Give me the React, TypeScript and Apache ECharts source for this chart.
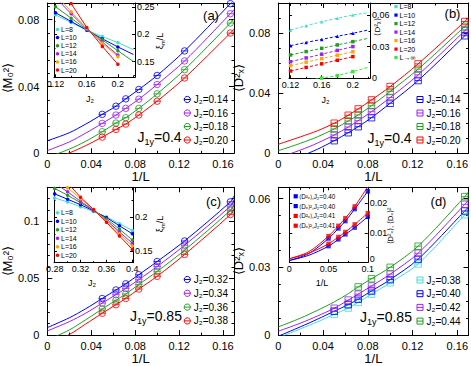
import React, { useEffect, useRef } from 'react';
import * as echarts from 'echarts';

const FONT = '"Liberation Sans", Arial, sans-serif';
const BLUE = '#0000ff', PURPLE = '#a020f0', GREEN = '#1f9f1f', RED = '#ff0000', CYAN = '#40e0d0', ORANGE = '#ffa500', LIME = '#3ee23e';

// ---- main panels: x = 1/L ----
const sizesL = [20, 16, 14, 12, 10, 8, 6];
const invL = sizesL.map((L) => 1 / L);
const fitX = [0, 0.02, 0.035, 0.05, 0.0625, 0.0714, 0.0833, 0.1, 0.125, 0.1667, 0.17];

// (a) <M0^2>, J1y = 0.4
const aLabels = ['J₂=0.14', 'J₂=0.16', 'J₂=0.18', 'J₂=0.20'];
const aM014 = [0.0233, 0.0282, 0.0326, 0.0382, 0.0466, 0.0613, 0.0896];
const aM016 = [0.0179, 0.0229, 0.0269, 0.0324, 0.0412, 0.0553, 0.0836];
const aM018 = [0.0129, 0.0181, 0.0213, 0.0269, 0.0356, 0.0501, 0.078];
const aM020 = [0.0097, 0.0143, 0.0175, 0.0229, 0.0312, 0.0451, 0.072];
const aFit014 = [0.0075, 0.0123, 0.0175, 0.0233, 0.0282, 0.0326, 0.0382, 0.0466, 0.0613, 0.0896, 0.0922];
const aFit016 = [0.0016, 0.0068, 0.0121, 0.0179, 0.0229, 0.0269, 0.0324, 0.0412, 0.0553, 0.0836, 0.0862];
const aFit018 = [-0.0025, 0.0025, 0.0072, 0.0129, 0.0181, 0.0213, 0.0269, 0.0356, 0.0501, 0.078, 0.0806];
const aFit020 = [-0.0045, 0.0002, 0.0046, 0.0097, 0.0143, 0.0175, 0.0229, 0.0312, 0.0451, 0.072, 0.0746];

// (b) <Dx^2>, J1y = 0.4
const bLabels = ['J₂=0.14', 'J₂=0.16', 'J₂=0.18', 'J₂=0.20'];
const bD014 = [0.0084, 0.0137, 0.0177, 0.0237, 0.0333, 0.0484, 0.0782];
const bD016 = [0.0122, 0.0175, 0.0217, 0.0277, 0.0371, 0.0522, 0.0815];
const bD018 = [0.0162, 0.0215, 0.0255, 0.0317, 0.0411, 0.056, 0.0844];
const bD020 = [0.02, 0.0253, 0.0295, 0.0355, 0.0444, 0.0595, 0.0877];
const bFit014 = [-0.008, -0.002, 0.0027, 0.0084, 0.0137, 0.0177, 0.0237, 0.0333, 0.0484, 0.0782, 0.0808];
const bFit016 = [-0.003, 0.0022, 0.0068, 0.0122, 0.0175, 0.0217, 0.0277, 0.0371, 0.0522, 0.0815, 0.0841];
const bFit018 = [0.0017, 0.0067, 0.011, 0.0162, 0.0215, 0.0255, 0.0317, 0.0411, 0.056, 0.0844, 0.087];
const bFit020 = [0.006, 0.011, 0.015, 0.02, 0.0253, 0.0295, 0.0355, 0.0444, 0.0595, 0.0877, 0.0903];

// (c) <M0^2>, J1y = 0.85
const cLabels = ['J₂=0.32', 'J₂=0.34', 'J₂=0.36', 'J₂=0.38'];
const cM032 = [0.0322, 0.0397, 0.0451, 0.0531, 0.0647, 0.0828, 0.1172];
const cM034 = [0.0281, 0.0356, 0.041, 0.0488, 0.0603, 0.079, 0.1134];
const cM036 = [0.023, 0.0307, 0.0362, 0.0445, 0.056, 0.0747, 0.1097];
const cM038 = [0.0192, 0.0267, 0.0322, 0.0405, 0.0517, 0.0709, 0.106];
const cFit032 = [0.0066, 0.0152, 0.0232, 0.0322, 0.0397, 0.0451, 0.0531, 0.0647, 0.0828, 0.1172, 0.1225];
const cFit034 = [0.0037, 0.0118, 0.0193, 0.0281, 0.0356, 0.041, 0.0488, 0.0603, 0.079, 0.1134, 0.1187];
const cFit036 = [-0.0045, 0.0045, 0.0135, 0.023, 0.0307, 0.0362, 0.0445, 0.056, 0.0747, 0.1097, 0.115];
const cFit038 = [-0.0085, 0.0005, 0.0098, 0.0192, 0.0267, 0.0322, 0.0405, 0.0517, 0.0709, 0.106, 0.1112];

// (d) <Dx^2>, J1y = 0.85
const dLabels = ['J₂=0.38', 'J₂=0.40', 'J₂=0.42', 'J₂=0.44'];
const dD038 = [0.0091, 0.0119, 0.0144, 0.018, 0.023, 0.0313, 0.0529];
const dD040 = [0.0105, 0.0134, 0.0158, 0.0194, 0.0244, 0.0334, 0.0546];
const dD042 = [0.0118, 0.0154, 0.018, 0.0216, 0.0268, 0.036, 0.0575];
const dD044 = [null, null, 0.0212, 0.0248, 0.0298, 0.0391, 0.0609];
const dFit038 = [-0.0012, 0.0028, 0.0058, 0.0091, 0.0119, 0.0144, 0.018, 0.023, 0.0313, 0.0529, 0.0546];
const dFit040 = [-0.0005, 0.0037, 0.007, 0.0105, 0.0134, 0.0158, 0.0194, 0.0244, 0.0334, 0.0546, 0.0564];
const dFit042 = [0.0017, 0.0053, 0.0084, 0.0118, 0.0154, 0.018, 0.0216, 0.0268, 0.036, 0.0575, 0.0594];
const dFit044 = [0.0036, 0.0075, 0.0109, 0.0146, 0.0182, 0.0212, 0.0248, 0.0298, 0.0391, 0.0609, 0.063];

// ---- insets ----
const sizeLabels = ['L=8', 'L=10', 'L=12', 'L=14', 'L=16', 'L=20'];
// inset (a): xi_m/L vs J2 (last column = line end only)
const iaJ2 = [0.12, 0.14, 0.16, 0.18, 0.2, 0.22];
const iaL8 = [0.236, 0.222, 0.208, 0.196, 0.185, 0.172];
const iaL10 = [0.24, 0.224, 0.208, 0.192, 0.177, 0.163];
const iaL12 = [0.251, 0.23, 0.209, 0.19, 0.17, 0.15];
const iaL14 = [0.268, 0.238, 0.21, 0.186, 0.162, null];
const iaL16 = [0.274, 0.242, 0.211, 0.184, 0.159, null];
const iaL20 = [0.3, 0.257, 0.213, 0.178, 0.145, null];

// inset (b): <Dx^2> vs J2
const ibLabels = ['L=8', 'L=10', 'L=12', 'L=14', 'L=16', 'L=20', 'L→∞'];
const ibJ2 = [0.12, 0.14, 0.16, 0.18, 0.2, 0.22];
const ibL8 = [0.0457, 0.0498, 0.0536, 0.0568, 0.06, 0.0622];
const ibL10 = [0.0309, 0.034, 0.0368, 0.0398, 0.0426, 0.0458];
const ibL12 = [0.0221, 0.0253, 0.0284, 0.0316, 0.0347, 0.0379];
const ibL14 = [0.0157, 0.0193, 0.0228, 0.0264, 0.03, null];
const ibL16 = [0.012, 0.0153, 0.0186, 0.0219, 0.0252, null];
const ibL20 = [0.0069, 0.0103, 0.0137, 0.0171, 0.0205, null];
const ibLinf = [-0.003, -0.0016, 0.0002, 0.0025, 0.0063, 0.0105];

// inset (c): xi_m/L vs J2
const icJ2 = [0.28, 0.3, 0.32, 0.34, 0.36, 0.38, 0.4];
const icL8 = [0.228, 0.222, 0.215, 0.208, 0.2, 0.19, 0.18];
const icL10 = [0.234, 0.226, 0.218, 0.209, 0.199, 0.187, 0.175];
const icL12 = [0.242, 0.232, 0.221, 0.21, 0.197, 0.182, 0.166];
const icL14 = [0.25, 0.237, 0.223, 0.21, 0.195, 0.178, 0.161];
const icL16 = [0.258, 0.243, 0.227, 0.211, 0.194, 0.175, 0.157];
const icL20 = [0.272, 0.25, 0.229, 0.211, 0.192, 0.172, 0.152];

// inset (d): <Dx^2> and <Dx>^2 vs 1/L
const idLabels = ['⟨D²ₓ⟩,J₂=0.40', '⟨Dₓ⟩²,J₂=0.40', '⟨D²ₓ⟩,J₂=0.41', '⟨Dₓ⟩²,J₂=0.41'];
const idInvL = [1 / 20, 1 / 16, 1 / 14, 1 / 12, 1 / 10];
const idD2_040 = [0.0081, 0.0115, 0.014, 0.0181, 0.0241];
const idDsq_040 = [0.0055, 0.0078, 0.0095, 0.0118, 0.0155];
const idD2_041 = [0.0089, 0.0124, 0.015, 0.019, 0.0257];
const idDsq_041 = [0.0063, 0.0086, 0.0103, 0.0129, 0.0167];
const idFitX = [0, 0.025, 0.05, 0.0625, 0.0714, 0.0833, 0.1];
const idFitD2_040 = [0.0006, 0.003, 0.0081, 0.0115, 0.014, 0.0181, 0.0241];
const idFitDsq_040 = [0.0006, 0.0024, 0.0055, 0.0078, 0.0095, 0.0118, 0.0155];
const idFitD2_041 = [0.0012, 0.0036, 0.0089, 0.0124, 0.015, 0.019, 0.0257];
const idFitDsq_041 = [0.0012, 0.0031, 0.0063, 0.0086, 0.0103, 0.0129, 0.0167];

const CIRC_BAR = 'path://M1,5A4,4 0 1,1 9,5A4,4 0 1,1 1,5ZM1,5L9,5';
const SQ_BAR = 'path://M1,1L9,1L9,9L1,9ZM1,5L9,5';

type Side = 'left' | 'right' | 'top' | 'bottom';
interface AxisDef { min: number; max: number; majors: number[]; minors: number[] }

const fmt = (v: number) => { const r = +(+v).toFixed(4); return r === 0 ? '0' : String(r); };
function steps(start: number, end: number, step: number): number[] {
  const out: number[] = [];
  const n = Math.round((end - start) / step);
  for (let i = 0; i <= n; i++) out.push(+(start + i * step).toFixed(6));
  return out;
}
const without = (a: number[], b: number[]) => a.filter((v) => !b.some((w) => Math.abs(w - v) < 1e-9));

function addAxes(list: any[], grid: number, d: AxisDef, labelSide: Side, oppSide: Side, majLen: number, minLen: number, label: any, name?: any): number {
  const mk = (pos: Side, ticks: number[], len: number, showLine: boolean, showLabel: boolean) => ({
    type: 'value', gridIndex: grid, position: pos, min: d.min, max: d.max,
    axisLine: { show: showLine, onZero: false, lineStyle: { color: '#000', width: 1 } },
    axisTick: { show: true, inside: true, length: len, customValues: ticks, lineStyle: { color: '#000', width: 1 } },
    axisLabel: showLabel
      ? { show: true, customValues: d.majors, formatter: fmt, color: '#000', fontFamily: FONT, ...label }
      : { show: false },
    splitLine: { show: false }, minorTick: { show: false }, minorSplitLine: { show: false },
  });
  const idx = list.length;
  const primary: any = mk(labelSide, d.majors, majLen, true, true);
  if (name) Object.assign(primary, name);
  list.push(primary, mk(labelSide, d.minors, minLen, false, false), mk(oppSide, d.majors, majLen, true, false), mk(oppSide, d.minors, minLen, false, false));
  return idx;
}

function buildOption() {
  const xAxes: any[] = [], yAxes: any[] = [], series: any[] = [], g: any[] = [];
  const grids = [
    { left: 43, top: 3, width: 191, height: 150.3 },
    { left: 278.3, top: 3, width: 191, height: 150.3 },
    { left: 43, top: 187.3, width: 191, height: 151 },
    { left: 278.3, top: 187.3, width: 191, height: 151 },
    { left: 54, top: 3, width: 81, height: 74.3, show: true, backgroundColor: '#fff', borderWidth: 0 },
    { left: 289, top: 3, width: 81, height: 75.3, show: true, backgroundColor: '#fff', borderWidth: 0 },
    { left: 54, top: 187.3, width: 79, height: 75.4, show: true, backgroundColor: '#fff', borderWidth: 0 },
    { left: 289.3, top: 187.3, width: 78.5, height: 75, show: true, backgroundColor: '#fff', borderWidth: 0 },
  ];
  const nameStyle = { fontSize: 13, fontFamily: FONT, color: '#000' };
  const xName = { name: '1/L', nameLocation: 'middle', nameGap: 15, nameTextStyle: nameStyle };
  const yName = (n: string) => ({ name: n, nameLocation: 'middle', nameGap: 28, nameRotate: 90, nameTextStyle: nameStyle });
  const xMain: AxisDef = { min: 0, max: 0.17, majors: steps(0, 0.16, 0.04), minors: steps(0.02, 0.14, 0.04) };
  const yDefs: AxisDef[] = [
    { min: 0, max: 0.09, majors: [0, 0.04, 0.08], minors: without(steps(0.008, 0.088, 0.008), [0, 0.04, 0.08]) },
    { min: 0, max: 0.1, majors: [0, 0.04, 0.08], minors: without(steps(0.01, 0.09, 0.01), [0, 0.04, 0.08]) },
    { min: 0, max: 0.13, majors: [0, 0.05, 0.1], minors: without(steps(0.01, 0.12, 0.01), [0, 0.05, 0.1]) },
    { min: 0, max: 0.065, majors: [0, 0.03, 0.06], minors: without(steps(0.0075, 0.06, 0.0075), [0, 0.03, 0.06]) },
  ];
  const yNames = ['⟨M₀²⟩', '⟨D²ₓ⟩', '⟨M₀²⟩', '⟨D²ₓ⟩'];
  const mainVals = [[aM014, aM016, aM018, aM020], [bD014, bD016, bD018, bD020], [cM032, cM034, cM036, cM038], [dD038, dD040, dD042, dD044]];
  const mainFits = [[aFit014, aFit016, aFit018, aFit020], [bFit014, bFit016, bFit018, bFit020], [cFit032, cFit034, cFit036, cFit038], [dFit038, dFit040, dFit042, dFit044]];
  const mainColors = [[BLUE, PURPLE, GREEN, RED], [BLUE, PURPLE, GREEN, RED], [BLUE, PURPLE, GREEN, RED], [CYAN, BLUE, PURPLE, GREEN]];
  const mainSymbols = [CIRC_BAR, SQ_BAR, CIRC_BAR, SQ_BAR];

  for (let p = 0; p < 4; p++) {
    const xi = addAxes(xAxes, p, xMain, 'bottom', 'top', 5, 2.5, { fontSize: 11, margin: 5 }, xName);
    const yi = addAxes(yAxes, p, yDefs[p], 'left', 'right', 5, 2.5, { fontSize: 11, margin: 8 }, yName(yNames[p]));
    mainVals[p].forEach((vals, k) => {
      const c = mainColors[p][k];
      series.push({
        type: 'line', xAxisIndex: xi, yAxisIndex: yi, clip: true, silent: true, z: 2,
        data: fitX.map((x, j) => [x, mainFits[p][k][j]]), symbol: 'none', showSymbol: false, smooth: 0.3,
        lineStyle: { color: c, width: 1 }, itemStyle: { color: c },
      });
      series.push({
        type: 'scatter', xAxisIndex: xi, yAxisIndex: yi, silent: true, z: 3,
        data: invL.map((x, j) => (vals[j] == null ? null : [x, vals[j]])).filter((d) => d !== null),
        symbol: mainSymbols[p], symbolSize: 6.5,
        itemStyle: { color: 'rgba(255,255,255,0)', borderColor: c, borderWidth: 1 },
      });
    });
  }

  // insets
  const ixDefs: AxisDef[] = [
    { min: 0.118, max: 0.222, majors: [0.12, 0.16, 0.2], minors: [0.14, 0.18, 0.22] },
    { min: 0.118, max: 0.222, majors: [0.12, 0.16, 0.2], minors: [0.14, 0.18, 0.22] },
    { min: 0.279, max: 0.401, majors: [0.28, 0.32, 0.36, 0.4], minors: [0.3, 0.34, 0.38] },
    { min: 0, max: 0.1, majors: [0, 0.05, 0.1], minors: [0.025, 0.075] },
  ];
  const iyDefs: AxisDef[] = [
    { min: 0.121, max: 0.258, majors: [0.15, 0.2, 0.25], minors: [0.125, 0.175, 0.225] },
    { min: 0, max: 0.0713, majors: [0, 0.03, 0.06], minors: [0.015, 0.045] },
    { min: 0.1324, max: 0.2437, majors: [0.15, 0.2], minors: [0.175, 0.225] },
    { min: 0, max: 0.0255, majors: [0, 0.01, 0.02], minors: [0.005, 0.015, 0.025] },
  ];
  const ix: number[] = [], iy: number[] = [];
  for (let p = 0; p < 4; p++) {
    ix.push(addAxes(xAxes, 4 + p, ixDefs[p], 'bottom', 'top', 3, 1.5, { fontSize: 9, margin: 2 }));
    const yl: any = { fontSize: 9, margin: 2 };
    if (p === 3) {
      // lift the "0" label slightly so it does not touch the x label "0.1"
      yl.formatter = (v: number) => (Math.abs(v) < 1e-9 ? '{z|0}' : fmt(v));
      yl.rich = { z: { fontSize: 9, fontFamily: FONT, padding: [0, 0, 7, 0] } };
    }
    iy.push(addAxes(yAxes, 4 + p, iyDefs[p], 'right', 'left', 3, 1.5, yl));
  }
  const sizeColors = [CYAN, BLUE, GREEN, PURPLE, ORANGE, RED];
  const lineInset = (p: number, xs: number[], vals: (number | null)[], c: string, opts: any, lastIsEnd: boolean) => {
    const data: any[] = [];
    xs.forEach((x, j) => {
      if (vals[j] == null) return;
      const end = lastIsEnd && j === xs.length - 1;
      data.push(end ? { value: [x, vals[j]], symbol: 'none' } : { value: [x, vals[j]] });
    });
    series.push({
      type: 'line', xAxisIndex: ix[p], yAxisIndex: iy[p], clip: true, silent: true, z: 4, data,
      symbol: opts.symbol, symbolSize: opts.size, showSymbol: true,
      lineStyle: { color: c, width: 1, type: opts.dash || 'solid' }, itemStyle: { color: c },
    });
  };
  [iaL8, iaL10, iaL12, iaL14, iaL16, iaL20].forEach((v, k) => lineInset(0, iaJ2, v, sizeColors[k], { symbol: 'circle', size: 3.5 }, true));
  const ibSyms = ['triangle', 'triangle', 'rect', 'rect', 'rect', 'rect', 'rect'];
  [ibL8, ibL10, ibL12, ibL14, ibL16, ibL20, ibLinf].forEach((v, k) =>
    lineInset(1, ibJ2, v, k === 6 ? LIME : sizeColors[k], { symbol: ibSyms[k], size: 3.5, dash: [3, 2] }, true));
  [icL8, icL10, icL12, icL14, icL16, icL20].forEach((v, k) => lineInset(2, icJ2, v, sizeColors[k], { symbol: 'circle', size: 3.5 }, false));
  const idVals = [idD2_040, idDsq_040, idD2_041, idDsq_041];
  const idFits = [idFitD2_040, idFitDsq_040, idFitD2_041, idFitDsq_041];
  const idColors = [BLUE, BLUE, RED, RED];
  idVals.forEach((v, k) => {
    series.push({
      type: 'line', xAxisIndex: ix[3], yAxisIndex: iy[3], clip: true, silent: true, z: 4,
      data: idFitX.map((x, j) => [x, idFits[k][j]]), symbol: 'none', showSymbol: false, smooth: 0.3,
      lineStyle: { color: idColors[k], width: 1 },
    });
    series.push({
      type: 'scatter', xAxisIndex: ix[3], yAxisIndex: iy[3], silent: true, z: 5,
      data: idInvL.map((x, j) => [x, v[j]]), symbol: 'rect', symbolSize: 4.5,
      itemStyle: { color: idColors[k] },
    });
  });

  // ---- graphics: legends, labels ----
  const txt = (x: number, y: number, text: string, size: number, extra: any = {}) => ({
    type: 'text', x, y, z: 100, silent: true,
    style: { text, fill: '#000', fontSize: size, fontFamily: FONT, align: 'left', verticalAlign: 'middle', ...extra },
  });
  const mainLegend = (x0: number, y0: number, step: number, names: string[], colors: string[], sq: boolean) => {
    names.forEach((n, i) => {
      const y = y0 + i * step, c = colors[i];
      if (sq) g.push({ type: 'rect', z: 100, silent: true, shape: { x: x0 - 3, y: y - 3, width: 6, height: 6 }, style: { fill: 'none', stroke: c, lineWidth: 1 } });
      else g.push({ type: 'circle', z: 100, silent: true, shape: { cx: x0, cy: y, r: 3.1 }, style: { fill: 'none', stroke: c, lineWidth: 1 } });
      g.push({ type: 'line', z: 100, silent: true, shape: { x1: x0 - 3, y1: y, x2: x0 + 3, y2: y }, style: { stroke: c, lineWidth: 1 } });
      g.push(txt(x0 + 6.5, y, n, 10));
    });
  };
  mainLegend(187.3, 99.5, 13.5, aLabels, mainColors[0], false);
  mainLegend(420, 99.5, 13.5, bLabels, mainColors[1], true);
  mainLegend(187.3, 279.5, 13.8, cLabels, mainColors[2], false);
  mainLegend(420, 280, 13.7, dLabels, mainColors[3], true);

  const insetLegend = (x0: number, y0: number, step: number, names: string[], colors: string[], shape: string, size: number) => {
    names.forEach((n, i) => {
      const y = y0 + i * step, c = colors[i];
      if (shape === 'circle') g.push({ type: 'circle', z: 100, silent: true, shape: { cx: x0, cy: y, r: size / 2 }, style: { fill: c } });
      else g.push({ type: 'rect', z: 100, silent: true, shape: { x: x0 - size / 2, y: y - size / 2, width: size, height: size }, style: { fill: c } });
      g.push(txt(x0 + 3.5, y, n, shape === 'rectd' ? 6.3 : 7));
    });
  };
  insetLegend(57.5, 29.5, 8.1, sizeLabels, sizeColors, 'circle', 3.5);
  insetLegend(396, 6.6, 8.5, ibLabels, [...sizeColors, LIME], 'rect', 3.2);
  insetLegend(57.5, 212.7, 8.5, sizeLabels, sizeColors, 'circle', 3.5);
  insetLegend(295.7, 196.3, 9.8, idLabels, idColors, 'rectd', 4.2);

  // panel tags
  g.push(txt(211, 15.5, '(a)', 13, { align: 'center' }));
  g.push(txt(452.5, 13, '(b)', 13, { align: 'center' }));
  g.push(txt(213.5, 201, '(c)', 13, { align: 'center' }));
  g.push(txt(438.5, 201, '(d)', 13, { align: 'center' }));

  const jRich = (x: number, y: number, v: string) => ({
    type: 'text', x, y, z: 100, silent: true,
    style: {
      text: `{a|J}{b|1y}{a|=${v}}`, align: 'left', verticalAlign: 'middle',
      rich: { a: { fontSize: 14, fontFamily: FONT, fill: '#000' }, b: { fontSize: 9, fontFamily: FONT, fill: '#000', padding: [10, 0, 0, 0] } },
    },
  });
  g.push(jRich(137.5, 137, '0.4'));
  g.push(jRich(367.5, 138, '0.4'));
  g.push(jRich(130, 316, '0.85'));
  g.push(jRich(360, 317, '0.85'));

  // inset axis titles
  const xiRich = (x: number, y: number) => ({
    type: 'text', x, y, z: 100, silent: true, rotation: Math.PI / 2,
    style: {
      text: '{a|ξ}{b|m}{a|/L}', align: 'center', verticalAlign: 'middle',
      rich: { a: { fontSize: 9, fontFamily: FONT, fill: '#000' }, b: { fontSize: 6, fontFamily: FONT, fill: '#000', padding: [6, 0, 0, 0] } },
    },
  });
  g.push(xiRich(160, 41));
  g.push(xiRich(160, 224));
  g.push({ ...txt(377, 27, '⟨D²ₓ⟩', 8, { align: 'center' }), rotation: Math.PI / 2 });
  g.push({ ...txt(390, 226, '⟨D²ₓ⟩, ⟨Dₓ⟩²', 7.5, { align: 'center' }), rotation: Math.PI / 2 });
  g.push(txt(90, 98.5, 'J₂', 9, { align: 'center' }));
  g.push(txt(325.5, 99.5, 'J₂', 9, { align: 'center' }));
  g.push(txt(92, 283, 'J₂', 9, { align: 'center' }));
  g.push(txt(322, 283, '1/L', 9, { align: 'center' }));

  return {
    animation: false,
    backgroundColor: '#fff',
    textStyle: { fontFamily: FONT },
    grid: grids,
    xAxis: xAxes,
    yAxis: yAxes,
    series,
    graphic: { elements: g },
  };
}

export default function App() {
  const ref = useRef<HTMLDivElement>(null);
  useEffect(() => {
    if (!ref.current) return;
    const chart = echarts.init(ref.current, undefined, { renderer: 'svg' });
    chart.setOption(buildOption() as any);
    return () => chart.dispose();
  }, []);
  return <div ref={ref} style={{ position: 'absolute', left: 0, top: 0, width: 471, height: 366, background: '#fff' }} />;
}
